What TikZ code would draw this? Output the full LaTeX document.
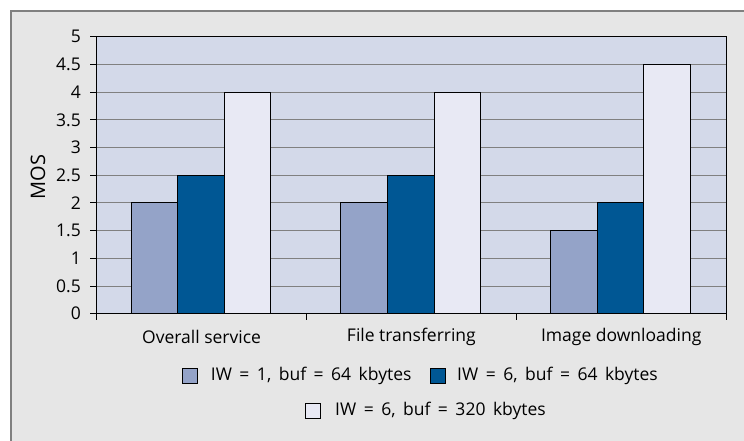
\documentclass[tikz,border=0pt]{standalone}
\usepackage{fontspec}
\setmainfont{Open Sans}
\definecolor{outerbg}{HTML}{E6E6E6}
\definecolor{plotbg}{HTML}{D3D9E9}
\definecolor{barA}{HTML}{94A3C8}
\definecolor{barB}{HTML}{005794}
\definecolor{barC}{HTML}{E8E9F4}
\definecolor{gridc}{HTML}{808080}
\newcommand{\legsp}[1]{{\spaceskip=7.5pt\relax #1}}
\tikzset{
  bar/.style={draw=black, line width=1pt},
  gridline/.style={draw=gridc, line width=1pt},
  axisline/.style={draw=black, line width=1pt},
  lbl/.style={font=\fontsize{17.5}{20}\selectfont, inner sep=0pt},
  legtxt/.style={font=\fontsize{17.5}{20}\selectfont, inner sep=0pt, anchor=west},
  legsq/.style={draw=black, line width=0.8pt, minimum width=15pt, minimum height=15pt, inner sep=0pt},
}
\newcommand{\Yv}[1]{313.7-#1*55.4}
\begin{document}
\begin{tikzpicture}[x=1pt,y=-1pt]
\useasboundingbox (0,0) rectangle (744,441);
% outer panel
\fill[outerbg] (11,11) rectangle (744,441);
\draw[gridc, line width=1.5pt] (11,441) -- (11,11) -- (744,11);
% plot area
\fill[plotbg] (96.7,36.7) rectangle (726,313.7);
\foreach \v in {0.5,1,...,4.5} {
  \draw[gridline] (96.7,{\Yv{\v}}) -- (726,{\Yv{\v}});
}
\draw[black, line width=1pt] (96.7,36.7) -- (726,36.7) -- (726,313.7);
% y ticks and labels
\foreach \v/\t in {0/0,0.5/0.5,1/1,1.5/1.5,2/2,2.5/2.5,3/3,3.5/3.5,4/4,4.5/4.5,5/5} {
  \draw[axisline] (90,{\Yv{\v}}) -- (96.7,{\Yv{\v}});
  \node[lbl, anchor=east] (yl\v) at (81,{\Yv{\v}}) {\t};
}
% bars
\foreach \g/\a/\b/\c in {0/2/2.5/4, 1/2/2.5/4, 2/1.5/2/4.5} {
  \pgfmathsetmacro{\xs}{131+\g*209.8}
  \draw[bar, fill=barA] (\xs,313.7) rectangle ({\xs+46.6},{\Yv{\a}});
  \draw[bar, fill=barB] ({\xs+46.6},313.7) rectangle ({\xs+93.2},{\Yv{\b}});
  \draw[bar, fill=barC] ({\xs+93.2},313.7) rectangle ({\xs+139.8},{\Yv{\c}});
}
% axes
\draw[axisline] (96.7,36.7) -- (96.7,320);
\draw[axisline] (96.7,313.7) -- (726,313.7);
\foreach \x in {306.5,516.3,726} {
  \draw[axisline] (\x,313.7) -- (\x,320);
}
% category labels
\node[lbl] (c1) at (201.6,336.7) {Overall service};
\node[lbl] (c2) at (411.4,336.7) {File transferring};
\node[lbl] (c3) at (621.2,336.7) {Image downloading};
% axis title
\node[font=\fontsize{20}{24}\selectfont, inner sep=0pt, rotate=90] (ytitle) at (38,177) {MOS};
% legend
\node[legsq, fill=barA] (s1) at (190.3,375.7) {};
\node[legtxt] (t1) at (210.7,375.7) {\legsp{IW = 1, buf = 64 kbytes}};
\node[legsq, fill=barB] (s2) at (437.7,375.7) {};
\node[legtxt] (t2) at (457,375.7) {\legsp{IW = 6, buf = 64 kbytes}};
\node[legsq, fill=barC] (s3) at (312.7,410.7) {};
\node[legtxt] (t3) at (335,410.7) {\legsp{IW = 6, buf = 320 kbytes}};
\end{tikzpicture}
\end{document}
